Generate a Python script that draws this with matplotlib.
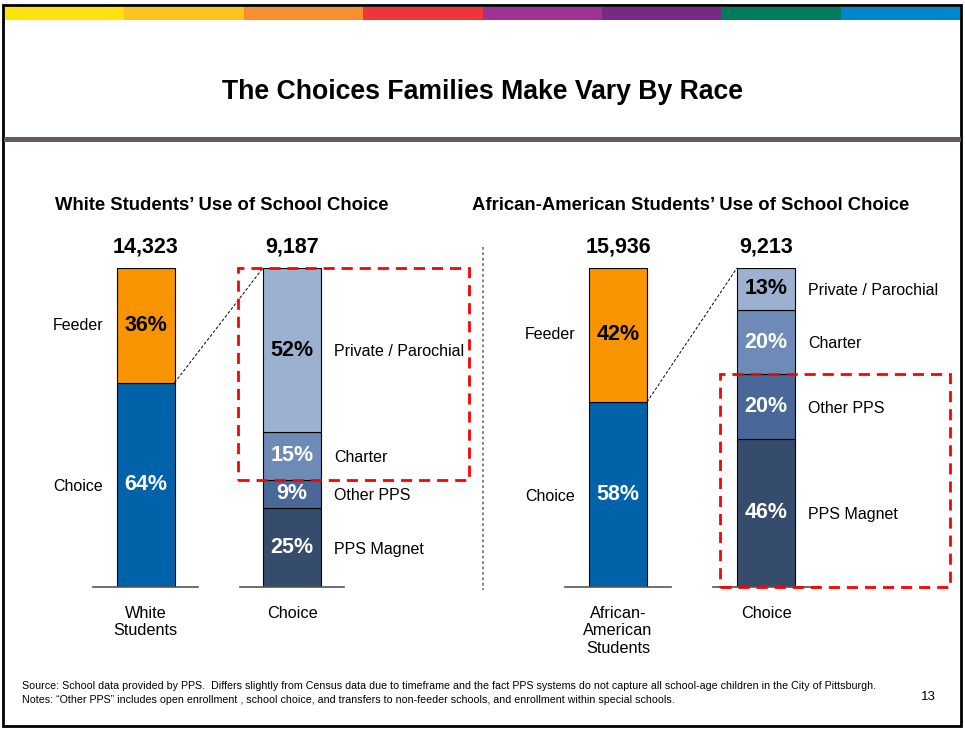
import matplotlib.pyplot as plt
from matplotlib.patches import Rectangle
import numpy as np

plt.rcParams['font.family'] = ['Liberation Sans', 'DejaVu Sans']

# data
groups = ['White Students', 'African-American Students']
panel_titles = ['White Students\u2019 Use of School Choice',
                'African-American Students\u2019 Use of School Choice']
group_labels = ['White\nStudents', 'African-\nAmerican\nStudents']
group_totals = ['14,323', '15,936']
choice_totals = ['9,187', '9,213']
feeder_pct = [36, 42]
choice_pct = [64, 58]
seg_names = ['PPS Magnet', 'Other PPS', 'Charter', 'Private / Parochial']
white_choice = [25, 9, 15, 52]
aa_choice = [46, 20, 20, 13]
choice_split = [white_choice, aa_choice]

band_colors = ['#FEE30F', '#FDC31E', '#F78F31', '#F03437',
               '#A03292', '#772A83', '#007B5E', '#0086CE']
seg_colors = ['#364C6D', '#4A6897', '#6E8BB8', '#9CB0CF']
seg_text = ['white', 'white', 'white', 'black']
feeder_color = '#F79400'
choice_color = '#0063AA'

W, H = 965, 729
fig = plt.figure(figsize=(W / 100, H / 100), dpi=100)

# slide background / decorations in pixel coordinates
bg = fig.add_axes([0, 0, 1, 1])
bg.set_xlim(0, W)
bg.set_ylim(H, 0)
bg.axis('off')
bg.add_patch(Rectangle((3, 5), 958, 721, fill=False, ec='black', lw=2))
seg_w = (960 - 5) / len(band_colors)
for i, c in enumerate(band_colors):
    bg.add_patch(Rectangle((5 + i * seg_w, 7), seg_w, 13, color=c, lw=0))
bg.add_patch(Rectangle((4, 137), 957, 5, color='#665B5B', lw=0))
bg.text(483, 92, 'The Choices Families Make Vary By Race', ha='center',
        va='center', fontsize=19.2, fontweight='bold')
bg.plot([483, 483], [247, 590], color='#777777', lw=1.3, ls=(0, (1.5, 1.5)))
bg.text(22, 686, 'Source: School data provided by PPS.  Differs slightly from Census data due to '
        'timeframe and the fact PPS systems do not capture all school-age children in the City of Pittsburgh.',
        fontsize=7.7, va='center')
bg.text(22, 700, 'Notes: \u201cOther PPS\u201d includes open enrollment , school choice, and transfers '
        'to non-feeder schools, and enrollment within special schools.',
        fontsize=7.7, va='center')
bg.text(928, 697, '13', fontsize=9.5, ha='center', va='center')

# panel layout (pixels): axes span, bar centres
panels = [dict(x0=40, x1=480, c0=145.5, step=146.5, title_x=222,
               box_x=(238, 469), box_seg=(2, 3)),
          dict(x0=480, x1=960, c0=618, step=148, title_x=691,
               box_x=(720, 950), box_seg=(0, 1))]
bar_px = 58
top_px, base_px = 268, 587

for k, p in enumerate(panels):
    ax = fig.add_axes([p['x0'] / W, 1 - base_px / H, (p['x1'] - p['x0']) / W,
                       (base_px - top_px) / H])
    ax.set_xlim((p['x0'] - p['c0']) / p['step'], (p['x1'] - p['c0']) / p['step'])
    ax.set_ylim(0, 100)
    ax.axis('off')
    bw = bar_px / p['step']

    # group bar
    ax.bar(0, choice_pct[k], width=bw, color=choice_color, ec='black', lw=0.8)
    ax.bar(0, feeder_pct[k], bottom=choice_pct[k], width=bw, color=feeder_color,
           ec='black', lw=0.8)
    ax.text(0, choice_pct[k] / 2, f'{choice_pct[k]}%', color='white', ha='center',
            va='center', fontsize=15.5, fontweight='bold')
    ax.text(0, choice_pct[k] + feeder_pct[k] / 2, f'{feeder_pct[k]}%', color='black',
            ha='center', va='center', fontsize=15.5, fontweight='bold')
    lx = -0.29
    ax.text(lx, choice_pct[k] + feeder_pct[k] / 2, 'Feeder', ha='right', va='center',
            fontsize=11.5)
    ax.text(lx, choice_pct[k] / 2 - 0.5, 'Choice', ha='right', va='center', fontsize=11.5)

    # choice breakdown, normalised to fill the bar
    vals = np.array(choice_split[k], dtype=float)
    heights = vals / vals.sum() * 100
    bottoms = np.concatenate([[0], np.cumsum(heights)[:-1]])
    ax.bar(1, heights, bottom=bottoms, width=bw, color=seg_colors, ec='black', lw=0.8)
    for v, h, b, tc, name in zip(vals, heights, bottoms, seg_text, seg_names):
        ax.text(1, b + h / 2, f'{int(v)}%', color=tc, ha='center', va='center',
                fontsize=15.5, fontweight='bold')
        ax.text(1 + 42 / p['step'], b + h / 2 - 0.5, name, ha='left', va='center',
                fontsize=11.5)

    # baselines
    for x in (0, 1):
        ax.plot([x - 0.357, x + 0.357], [0, 0], color='#555555', lw=1.2, clip_on=False)

    # connector
    ax.plot([bw / 2, 1 - bw / 2], [choice_pct[k], 100], color='black', lw=0.7,
            ls=(0, (3, 2)), clip_on=False)

    # totals and axis labels
    for x, t in zip((0, 1), (group_totals[k], choice_totals[k])):
        ax.annotate(t, (x, 100), xytext=(0, 15), textcoords='offset points',
                    ha='center', va='center', fontsize=15.5, fontweight='bold')
    for x, t in zip((0, 1), (group_labels[k], 'Choice')):
        ax.annotate(t, (x, 0), xytext=(0, -14), textcoords='offset points',
                    ha='center', va='top', fontsize=11.7, linespacing=1.17)

    # highlight box
    s0, s1 = p['box_seg']
    y_lo = bottoms[s0]
    y_hi = bottoms[s1] + heights[s1]
    bx0 = (p['box_x'][0] - p['c0']) / p['step']
    bx1 = (p['box_x'][1] - p['c0']) / p['step']
    ax.add_patch(Rectangle((bx0, y_lo), bx1 - bx0, y_hi - y_lo, fill=False,
                           ec='#FF0000', lw=2, ls=(0, (4, 2.5)), clip_on=False, zorder=5))

    bg.text(p['title_x'], 205, panel_titles[k], ha='center', va='center',
            fontsize=13.3, fontweight='bold')

fig.savefig('out.png', dpi=100)
